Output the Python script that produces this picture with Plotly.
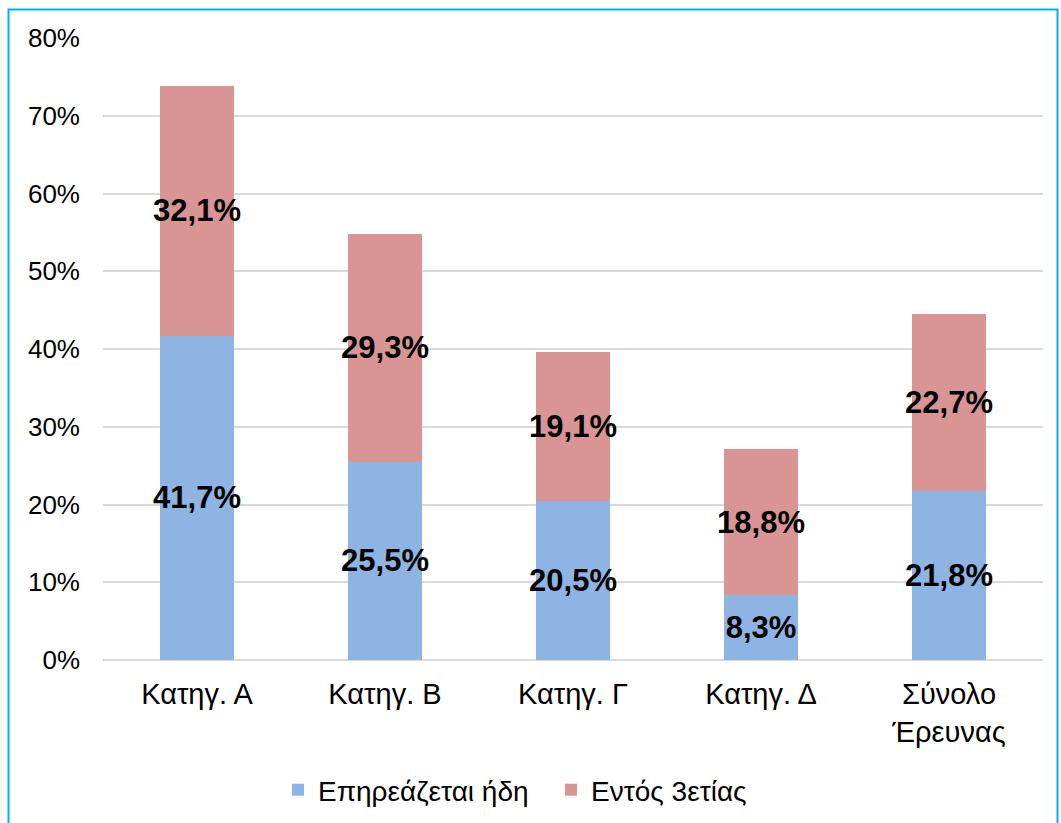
import plotly.graph_objects as go

categories = ["Κατηγ. Α", "Κατηγ. Β", "Κατηγ. Γ", "Κατηγ. Δ", "Σύνολο<br>Έρευνας"]
already = [41.7, 25.5, 20.5, 8.3, 21.8]
within3 = [32.1, 29.3, 19.1, 18.8, 22.7]
series_names = ["Επηρεάζεται ήδη", "Εντός 3ετίας"]
y_ticks = [0, 10, 20, 30, 40, 50, 60, 70, 80]
y_tick_labels = [f"{v}%" for v in y_ticks]

def fmt(v):
    return f"{v:.1f}".replace(".", ",") + "%"

FONT = "Liberation Sans, Arial, sans-serif"
PH = 622  # plot-area height in px (823 - 38 - 163)

fig = go.Figure()
for name, vals, color in [(series_names[0], already, "#8EB4E3"),
                          (series_names[1], within3, "#D99594")]:
    fig.add_trace(go.Bar(
        x=categories, y=vals, name=name,
        marker=dict(color=color, line=dict(width=0)),
        width=0.39,
        text=[fmt(v) for v in vals],
        textposition="inside",
        insidetextanchor="middle",
        textangle=0,
        constraintext="none",
        textfont=dict(family=FONT, size=31, color="#000000", weight="bold"),
        hoverinfo="skip",
    ))

fig.update_layout(
    barmode="stack",
    width=1061, height=823,
    margin=dict(l=103, r=18, t=38, b=163, autoexpand=False),
    paper_bgcolor="#FFFFFF", plot_bgcolor="#FFFFFF",
    font=dict(family=FONT, size=24, color="#000000"),
    showlegend=True,
    legend=dict(orientation="h", x=(278 - 103) / 940, xanchor="left",
                y=(660 - 790) / PH, yanchor="middle",
                font=dict(size=28), itemwidth=30, traceorder="normal",
                entrywidth=228, entrywidthmode="pixels"),
    xaxis=dict(showgrid=False, showline=False, ticks="", ticklabelstandoff=14,
               tickfont=dict(size=29)),
    yaxis=dict(range=[0, 80], tickvals=y_ticks, ticktext=y_tick_labels,
               showgrid=True, gridcolor="#D9D9D9", gridwidth=1.5,
               zeroline=True, zerolinecolor="#D9D9D9", zerolinewidth=1.5,
               showline=False, ticks="", ticklabelstandoff=22, tickfont=dict(size=26)),
    shapes=[dict(type="rect", xref="paper", yref="paper",
                 x0=(8.5 - 103) / 940, x1=(1057.5 - 103) / 940,
                 y0=(660 - 840) / PH, y1=(660 - 9.5) / PH,
                 line=dict(color="#00B0F0", width=2), fillcolor="rgba(0,0,0,0)", layer="above")],
)

fig.write_html("out.html", config={"displayModeBar": False},
               post_script="document.body.style.margin='0';document.body.style.overflow='hidden';")
